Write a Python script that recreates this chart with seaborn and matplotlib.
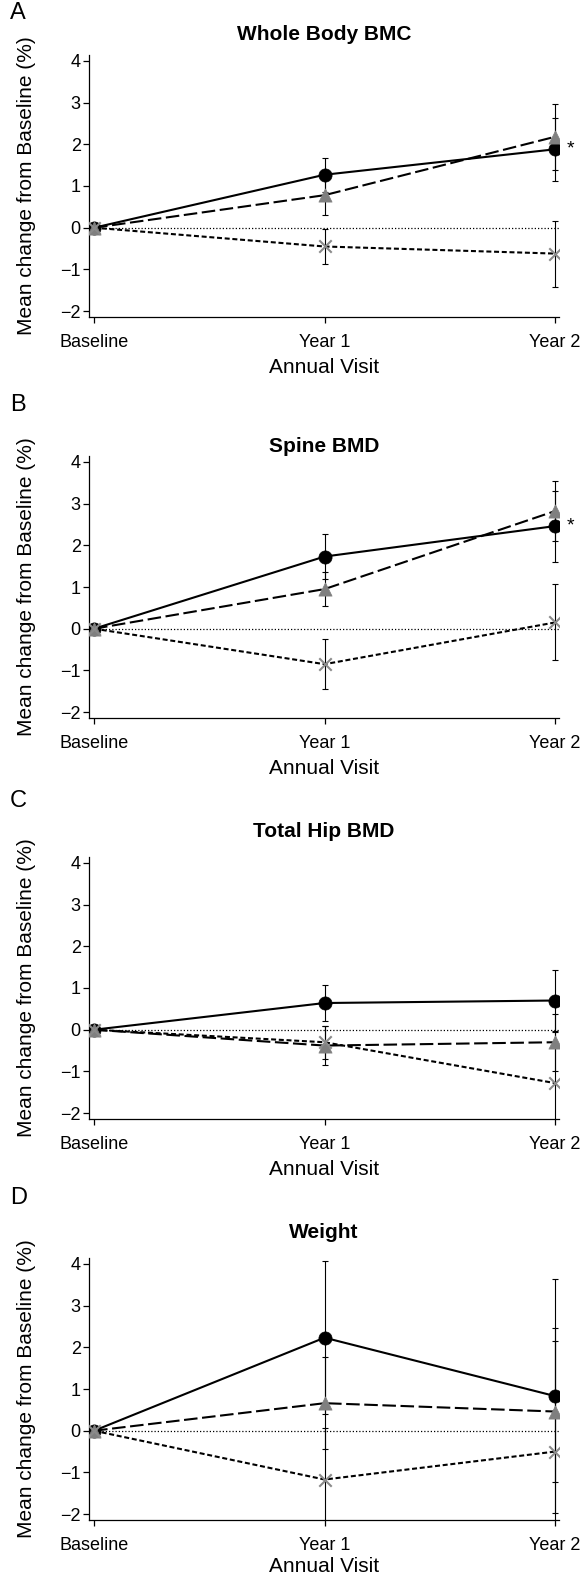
import pandas as pd
import matplotlib.pyplot as plt
import seaborn as sns

# ---- data (mean % change, error bar half-width) ----
visits = ["Baseline", "Year 1", "Year 2"]
panels = ["Whole Body BMC", "Spine BMD", "Total Hip BMD", "Weight"]
letters = ["A", "B", "C", "D"]
groups = ["circle", "triangle", "cross"]

wb_mean = {"circle": [0, 1.27, 1.88], "triangle": [0, 0.78, 2.18], "cross": [0, -0.45, -0.62]}
wb_err = {"circle": [0, 0.41, 0.75], "triangle": [0, 0.47, 0.79], "cross": [0, 0.41, 0.79]}

sp_mean = {"circle": [0, 1.73, 2.46], "triangle": [0, 0.95, 2.82], "cross": [0, -0.85, 0.15]}
sp_err = {"circle": [0, 0.55, 0.85], "triangle": [0, 0.41, 0.72], "cross": [0, 0.60, 0.91]}

hip_mean = {"circle": [0, 0.64, 0.70], "triangle": [0, -0.38, -0.30], "cross": [0, -0.30, -1.28]}
hip_err = {"circle": [0, 0.43, 0.74], "triangle": [0, 0.46, 0.68], "cross": [0, 0.40, 1.22]}

wt_mean = {"circle": [0, 2.23, 0.83], "triangle": [0, 0.66, 0.46], "cross": [0, -1.17, -0.50]}
wt_err = {"circle": [0, 1.84, 2.81], "triangle": [0, 1.10, 1.70], "cross": [0, 1.24, 2.96]}

# significance marks (panel index -> y of the Year 2 circle)
stars = {0: 1.88, 1: 2.46}

all_means = [wb_mean, sp_mean, hip_mean, wt_mean]
all_errs = [wb_err, sp_err, hip_err, wt_err]

rows = []
for p, name in enumerate(panels):
    for g in groups:
        for i, v in enumerate(visits):
            rows.append({"panel": name, "group": g, "visit": i,
                         "mean": all_means[p][g][i], "err": all_errs[p][g][i]})
df = pd.DataFrame(rows)

# ---- style ----
sns.set_theme(style="ticks")
plt.rcParams["font.family"] = ["Liberation Sans", "DejaVu Sans"]
for key in ["text.color", "axes.labelcolor", "xtick.color", "ytick.color", "axes.edgecolor"]:
    plt.rcParams[key] = "black"

markers = {"circle": "o", "triangle": "^", "cross": "x"}
mcolors = {"circle": "black", "triangle": "#7f7f7f", "cross": "#8a8a8a"}
mzorder = {"circle": 3, "triangle": 4, "cross": 5}
dashes = {"circle": "", "triangle": (6.5, 2.2), "cross": (2.4, 1.3)}

W, H = 581, 1577
fig = plt.figure(figsize=(W / 100, H / 100), dpi=100)

# pixel layout of each panel
ax_left, ax_right = 89, 559
ax_top0, ax_h, step = 55, 262, 401
title_y = [35, 446, 832, 1232]
letter_y = [13, 405, 801, 1198]
xlabel_pad = [5.5, 5.5, 5.5, 2.5]

for p, name in enumerate(panels):
    top = ax_top0 + step * p
    ax = fig.add_axes([ax_left / W, 1 - (top + ax_h) / H,
                       (ax_right - ax_left) / W, ax_h / H])
    sub = df[df["panel"] == name]

    ax.axhline(0, color="black", lw=0.9, ls=(0, (1, 1.6)), zorder=0.5)

    # error bars (only follow-up visits)
    for g in groups:
        s = sub[(sub["group"] == g) & (sub["visit"] > 0)]
        ax.errorbar(s["visit"], s["mean"], yerr=s["err"], fmt="none",
                    ecolor="black", elinewidth=0.8, capsize=2.5, capthick=0.8,
                    zorder=1)

    sns.lineplot(data=sub, x="visit", y="mean", style="group",
                 style_order=groups, dashes=dashes, color="black",
                 linewidth=1.5, legend=False, ax=ax, zorder=2)

    for g in groups:
        s = sub[sub["group"] == g]
        if markers[g] == "x":
            sns.scatterplot(data=s, x="visit", y="mean", marker="x",
                            color=mcolors[g], s=80, linewidth=1.5,
                            ax=ax, zorder=mzorder[g])
        else:
            sns.scatterplot(data=s, x="visit", y="mean", marker=markers[g],
                            color=mcolors[g], edgecolor=mcolors[g],
                            s=90, linewidth=0.5, ax=ax, zorder=mzorder[g])

    if p in stars:
        ax.text(2.05, stars[p], "*", fontsize=14, ha="left", va="center",
                clip_on=False)

    ax.set_xlim(-0.022, 2.017)
    ax.set_ylim(-2.14, 4.14)
    ax.set_xticks([0, 1, 2])
    ax.set_xticklabels(visits)
    ax.set_yticks([-2, -1, 0, 1, 2, 3, 4])
    ax.set_yticklabels(["\u22122", "\u22121", "0", "1", "2", "3", "4"])
    ax.tick_params(axis="x", length=4, width=0.9, pad=8, labelsize=13)
    ax.tick_params(axis="y", length=4, width=0.9, pad=2, labelsize=13)
    for sp in ["left", "bottom"]:
        ax.spines[sp].set_linewidth(0.9)
    sns.despine(ax=ax)

    ax.set_xlabel("Annual Visit", fontsize=15, labelpad=xlabel_pad[p])
    ax.set_ylabel("Mean change from Baseline (%)", fontsize=15)
    ax.yaxis.set_label_coords(-0.113, 0.5)

    fig.text((ax_left + ax_right) / 2 / W, 1 - title_y[p] / H, name,
             fontsize=15, fontweight="bold", ha="center", va="center")
    fig.text(10 / W, 1 - letter_y[p] / H, letters[p], fontsize=17,
             ha="left", va="center")

fig.savefig("out.png", dpi=100)
